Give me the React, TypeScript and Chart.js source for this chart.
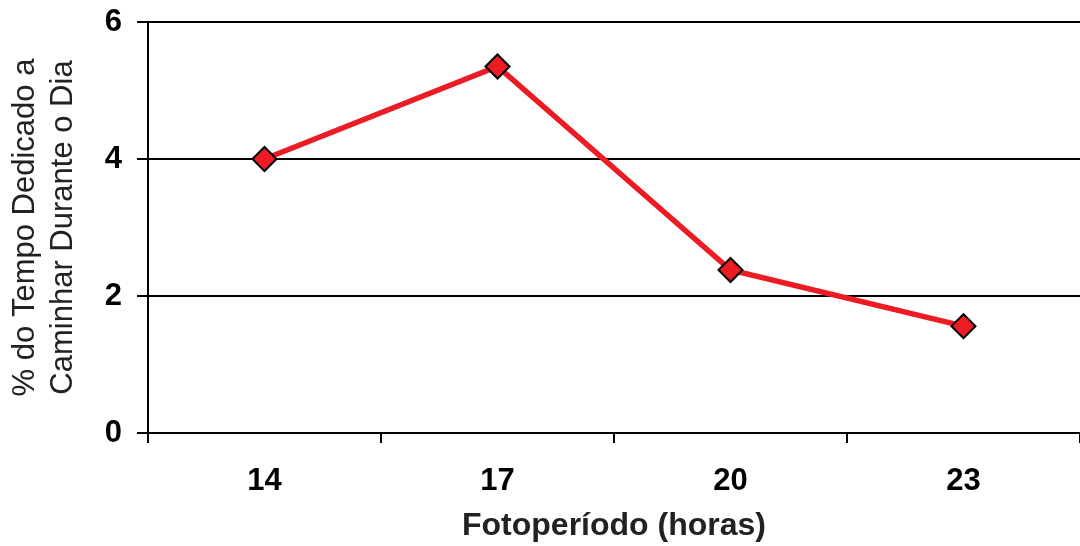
import React, { useEffect, useRef } from "react";
import { Chart, registerables } from "chart.js";

Chart.register(...registerables);

const categories = ["14", "17", "20", "23"];
const walkingShare = [4.0, 5.35, 2.38, 1.56];
const yTickValues = [0, 2, 4, 6];
const xTitle = "Fotoperíodo (horas)";
const yTitle = ["% do Tempo Dedicado a", "Caminhar Durante o Dia"];

const FONT = "'Liberation Sans', Arial, Helvetica, sans-serif";

export default function App() {
  const canvasRef = useRef<HTMLCanvasElement | null>(null);

  useEffect(() => {
    document.body.style.margin = "0";
    document.body.style.overflow = "hidden";
    const canvas = canvasRef.current;
    if (!canvas) return;
    const chart = new Chart(canvas, {
      type: "line",
      data: {
        labels: categories,
        datasets: [
          {
            data: walkingShare,
            borderColor: "#ed1c24",
            borderWidth: 5.5,
            backgroundColor: "#ed1c24",
            pointStyle: "rectRot",
            pointRadius: 12,
            pointHoverRadius: 12,
            pointBackgroundColor: "#ed1c24",
            pointBorderColor: "#000000",
            pointBorderWidth: 2,
            tension: 0,
          },
        ],
      },
      options: {
        animation: false,
        responsive: false,
        maintainAspectRatio: false,
        layout: {
          autoPadding: false,
          padding: { top: 22, right: 0, left: 0, bottom: 0 },
        },
        plugins: {
          legend: { display: false },
          tooltip: { enabled: false },
        },
        scales: {
          x: {
            type: "category",
            offset: true,
            afterFit: (scale: any) => {
              scale.paddingLeft = 0;
              scale.paddingRight = 0;
              scale.height = 113;
            },
            grid: {
              offset: true,
              drawOnChartArea: false,
              drawTicks: true,
              tickLength: 10,
              color: "#000000",
              lineWidth: 2,
            },
            border: { color: "#000000", width: 2 },
            ticks: {
              color: "#000000",
              padding: 20,
              font: { family: FONT, size: 31, weight: "bold" },
            },
            title: {
              display: true,
              text: xTitle,
              color: "#222222",
              padding: { top: 0, bottom: 1 },
              font: { family: FONT, size: 32, weight: "bold", lineHeight: 1.2 },
            },
          },
          y: {
            min: 0,
            max: 6,
            afterBuildTicks: (axis: any) => {
              axis.ticks = yTickValues.map((v) => ({ value: v }));
            },
            afterFit: (scale: any) => {
              scale.paddingTop = 0;
              scale.paddingBottom = 0;
              scale.width = 148;
            },
            grid: {
              color: "#000000",
              lineWidth: 2,
              drawTicks: true,
              tickLength: 11,
            },
            border: { color: "#000000", width: 2 },
            ticks: {
              color: "#000000",
              padding: 15,
              font: { family: FONT, size: 31, weight: "bold" },
            },
            title: {
              display: true,
              text: yTitle,
              color: "#222222",
              padding: { top: 7, bottom: 0 },
              font: { family: FONT, size: 31, weight: "normal", lineHeight: 1.22 },
            },
          },
        },
      },
    });
    return () => chart.destroy();
  }, []);

  return (
    <div style={{ position: "absolute", left: 0, top: 0, width: 1080, height: 546, overflow: "hidden" }}>
      <canvas ref={canvasRef} width={1080} height={546} style={{ display: "block" }} />
    </div>
  );
}
